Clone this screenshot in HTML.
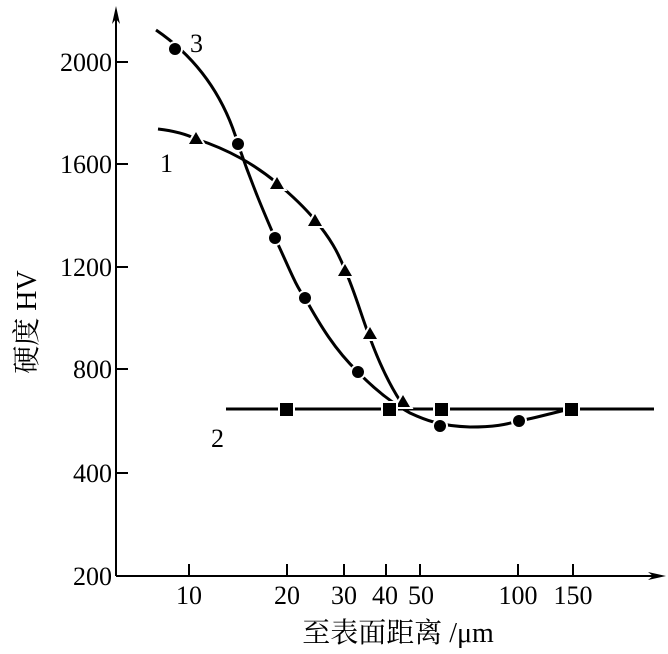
<!DOCTYPE html>
<html><head><meta charset="utf-8"><style>html,body{margin:0;padding:0;background:#fff}</style></head>
<body>
<svg width="668" height="649" xmlns="http://www.w3.org/2000/svg" font-family="'Liberation Serif','Noto Serif CJK SC',serif" font-size="26">
<rect width="668" height="649" fill="#fff"/>
<g stroke="#000" stroke-width="2" fill="none">
<line x1="116" y1="576" x2="116" y2="14"/>
<line x1="116" y1="576" x2="655" y2="576"/>
<line x1="116" y1="62" x2="128" y2="62"/>
<line x1="116" y1="164" x2="128" y2="164"/>
<line x1="116" y1="267" x2="128" y2="267"/>
<line x1="116" y1="369" x2="128" y2="369"/>
<line x1="116" y1="473" x2="128" y2="473"/>
<line x1="189" y1="576" x2="189" y2="564"/>
<line x1="287" y1="576" x2="287" y2="564"/>
<line x1="344" y1="576" x2="344" y2="564"/>
<line x1="386" y1="576" x2="386" y2="564"/>
<line x1="420" y1="576" x2="420" y2="564"/>
<line x1="518" y1="576" x2="518" y2="564"/>
<line x1="573" y1="576" x2="573" y2="564"/>
</g>
<polygon points="116,6 112,24 116,19 120,24" fill="#000"/>
<polygon points="666,576 648,572 653,576 648,580" fill="#000"/>
<g text-anchor="end">
<text x="112" y="71">2000</text>
<text x="112" y="173">1600</text>
<text x="112" y="276">1200</text>
<text x="112" y="378">800</text>
<text x="112" y="482">400</text>
<text x="112" y="585">200</text>
</g>
<g text-anchor="middle">
<text x="189" y="604">10</text>
<text x="287" y="604">20</text>
<text x="344" y="604">30</text>
<text x="385" y="604">40</text>
<text x="421" y="604">50</text>
<text x="518" y="604">100</text>
<text x="573" y="604">150</text>
<text x="398" y="642" font-size="28">至表面距离 /μm</text>
</g>
<text transform="translate(36,322) rotate(-90)" text-anchor="middle" font-size="28">硬度 HV</text>
<text x="190" y="52">3</text>
<text x="160" y="172">1</text>
<text x="211" y="447">2</text>
<g stroke="#000" stroke-width="3" fill="none">
<line x1="226" y1="409" x2="654" y2="409"/>
<path d="M156,30 C200,60 225,100 238,144 C252,185 265,215 275,238 C288,265 295,285 305,298 C320,325 335,350 358,372 C375,390 395,405 410,413 C425,420 440,426 470,427 C500,427 510,423 519,421 C540,417 555,412 571,409"/>
<path d="M158,129 C175,131 186,134 196,139 C230,150 255,165 277,183 C295,198 305,208 315,220 C330,238 338,252 345,270 C355,292 362,318 370,338 C380,365 392,390 405,408"/>
</g>
<g fill="#000" stroke="#fff" stroke-width="4" paint-order="stroke">
<circle cx="175" cy="49" r="6"/><circle cx="238" cy="144" r="6"/><circle cx="275" cy="238" r="6"/>
<circle cx="305" cy="298" r="6"/><circle cx="358" cy="372" r="6"/><circle cx="440" cy="426" r="6"/><circle cx="519" cy="421" r="6"/>
<polygon points="196,132 203,144 189,144"/><polygon points="277,177 284,189 270,189"/><polygon points="315,214 322,226 308,226"/>
<polygon points="345,264 352,276 338,276"/><polygon points="370,327 377,339 363,339"/><polygon points="403,395 410,407 396,407"/>
<rect x="280" y="403" width="13" height="13"/><rect x="383" y="403" width="13" height="13"/><rect x="435" y="403" width="13" height="13"/><rect x="565" y="403" width="13" height="13"/>
</g>
</svg>
</body></html>
